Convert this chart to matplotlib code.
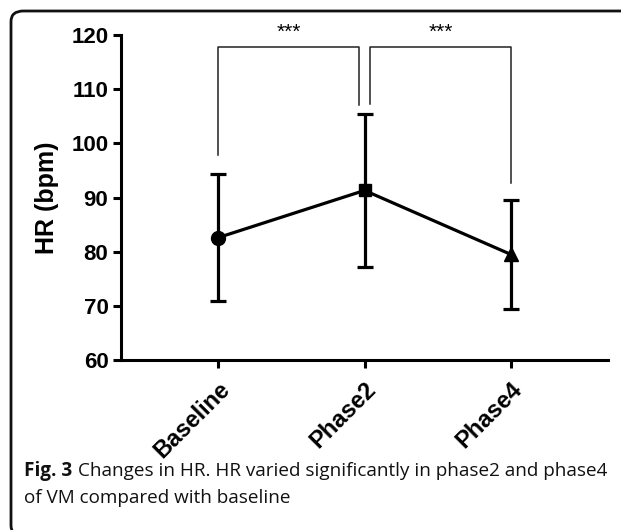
import matplotlib
matplotlib.use("Agg")
import matplotlib.pyplot as plt
from matplotlib.patches import FancyBboxPatch
import numpy as np

# data
phases = ["Baseline", "Phase2", "Phase4"]
hr_mean = [82.6, 91.3, 79.5]
hr_upper = [94.3, 105.4, 89.6]
hr_lower = [70.9, 77.2, 69.4]
markers = ["o", "s", "^"]

# significance brackets: (left idx, right idx, left arm end, right arm end)
brackets = [(0, 1, 97.9, 107.0), (1, 2, 107.3, 92.6)]
bracket_y = 117.8
stars = "***"

W, H = 621, 530
fig = plt.figure(figsize=(W / 100, H / 100), dpi=100)
plt.rcParams["font.family"] = ["Liberation Sans", "DejaVu Sans"]

ax = fig.add_axes([121 / W, 1 - 360 / H, (608 - 121) / W, (360 - 35) / H])

x = np.arange(len(phases))
mean = np.array(hr_mean)
yerr = [mean - np.array(hr_lower), np.array(hr_upper) - mean]

ax.plot(x, mean, color="black", lw=2.3, zorder=3)
ax.errorbar(x, mean, yerr=yerr, fmt="none", ecolor="black", elinewidth=2.3,
            capsize=6, capthick=2.3, zorder=2)
msize = {"o": 10, "s": 9, "^": 10}
for xi, yi, m in zip(x, mean, markers):
    ax.plot(xi, yi, marker=m, color="black", markersize=msize[m], zorder=4)

# brackets
gap = 0.04
for i, (a, b, ya, yb) in enumerate(brackets):
    xa = a + (gap if i == 1 else 0)
    xb = b - (gap if i == 0 else 0)
    ax.plot([xa, xa, xb, xb], [ya, bracket_y, bracket_y, yb], color="#222222",
            lw=1.1, clip_on=False, zorder=1)
    ax.text((xa + xb) / 2, bracket_y + 0.9, stars, ha="center", va="bottom",
            fontsize=15, clip_on=False)

ax.set_xlim(-0.665, 2.665)
ax.set_ylim(60, 120)
ax.set_yticks(np.arange(60, 121, 10))
ax.set_xticks(x)
ax.set_xticklabels(phases, rotation=45, ha="right", rotation_mode="anchor",
                   fontsize=17, fontweight="bold")
for lab in ax.get_yticklabels():
    lab.set_fontsize(16)
    lab.set_fontweight("bold")
ax.set_ylabel("HR (bpm)", fontsize=18, fontweight="bold", labelpad=9)

for s in ["top", "right"]:
    ax.spines[s].set_visible(False)
for s in ["left", "bottom"]:
    ax.spines[s].set_linewidth(2.2)
ax.tick_params(axis="y", direction="out", length=6, width=2.2, pad=3)
ax.tick_params(axis="x", direction="out", length=6, width=2.2, pad=7)

# rounded frame around the figure
frame = FancyBboxPatch((11 / W, -6 / H), 700 / W, (530 - 11 + 6) / H,
                       boxstyle="round,pad=0,rounding_size=0.02",
                       transform=fig.transFigure, fill=False, lw=2,
                       edgecolor="#111111")
fig.patches.append(frame)

# caption
cap_font = ["Open Sans", "DejaVu Sans"]
cap_size = 13.6
t1 = fig.text(24 / W, 1 - 476 / H, "Fig. 3", fontsize=cap_size, fontweight="bold",
              family=cap_font, va="baseline", color="#111111")
fig.canvas.draw()
bb = t1.get_window_extent()
fig.text(bb.x1 / W + 6 / W, 1 - 476 / H,
         "Changes in HR. HR varied significantly in phase2 and phase4",
         fontsize=cap_size, family=cap_font, va="baseline", color="#111111")
fig.text(24 / W, 1 - 503 / H, "of VM compared with baseline", fontsize=cap_size,
         family=cap_font, va="baseline", color="#111111")

fig.savefig("out.png", dpi=100)
